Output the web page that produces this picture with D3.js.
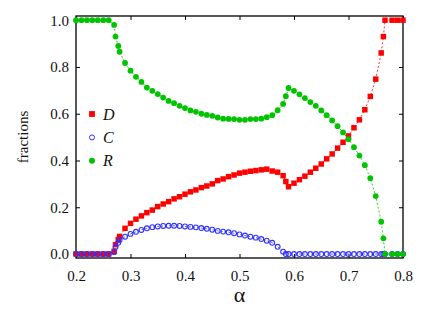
<!DOCTYPE html>
<html>
<head>
<meta charset="utf-8">
<script src="https://cdn.jsdelivr.net/npm/d3@7"></script>
<style>
body { margin: 0; background: #fff; }
</style>
</head>
<body>
<svg id="chart" width="436" height="309"></svg>
<script>
const width = 436;
const height = 309;
const serif = "'Liberation Serif', 'Times New Roman', 'DejaVu Serif', serif";

// values
const alpha = [0.20, 0.21, 0.22, 0.23, 0.24, 0.25, 0.26, 0.27, 0.2725, 0.2775, 0.28, 0.29,
  0.30, 0.31, 0.32, 0.33, 0.34, 0.35, 0.36, 0.37, 0.38, 0.39,
  0.40, 0.41, 0.42, 0.43, 0.44, 0.45, 0.46, 0.47, 0.48, 0.49,
  0.50, 0.51, 0.52, 0.53, 0.54, 0.55, 0.56, 0.57, 0.58, 0.585, 0.59,
  0.60, 0.61, 0.62, 0.63, 0.64, 0.65, 0.66, 0.67, 0.68, 0.69,
  0.70, 0.71, 0.72, 0.73, 0.74, 0.75, 0.76, 0.764, 0.767, 0.78, 0.79, 0.80];

const fracD = [0, 0, 0, 0, 0, 0, 0, 0.012, 0.04, 0.062, 0.075, 0.11,
  0.131, 0.149, 0.163, 0.177, 0.188, 0.203, 0.214, 0.224, 0.236, 0.245,
  0.256, 0.266, 0.274, 0.284, 0.291, 0.30, 0.314, 0.321, 0.331, 0.338,
  0.346, 0.35, 0.354, 0.357, 0.36, 0.363, 0.355, 0.35, 0.335, 0.31, 0.288,
  0.303, 0.318, 0.333, 0.35, 0.367, 0.385, 0.407, 0.428, 0.453, 0.478,
  0.505, 0.54, 0.574, 0.617, 0.674, 0.748, 0.86, 0.93, 1, 1, 1, 1];

const fracC = [0, 0, 0, 0, 0, 0, 0, 0.008, 0.03, 0.048, 0.06, 0.074,
  0.086, 0.095, 0.103, 0.11, 0.115, 0.118, 0.12, 0.121, 0.121, 0.12,
  0.118, 0.116, 0.114, 0.111, 0.108, 0.104, 0.099, 0.096, 0.093, 0.089,
  0.084, 0.079, 0.074, 0.07, 0.064, 0.057, 0.048, 0.031, 0.01, 0, 0,
  0, 0, 0, 0, 0, 0, 0, 0, 0, 0,
  0, 0, 0, 0, 0, 0, 0, 0, 0, 0, 0, 0];

const fracR = [1, 1, 1, 1, 1, 1, 1, 0.98, 0.93, 0.89, 0.865, 0.817,
  0.784, 0.758, 0.736, 0.712, 0.698, 0.684, 0.669, 0.655, 0.645, 0.634,
  0.624, 0.614, 0.608, 0.60, 0.595, 0.591, 0.584, 0.579, 0.578, 0.577,
  0.574, 0.574, 0.577, 0.577, 0.579, 0.585, 0.594, 0.615, 0.642, 0.675, 0.71,
  0.698, 0.683, 0.667, 0.65, 0.634, 0.614, 0.594, 0.571, 0.547, 0.52,
  0.491, 0.457, 0.421, 0.38, 0.324, 0.248, 0.138, 0.067, 0, 0, 0, 0];

const xTicks = [0.2, 0.3, 0.4, 0.5, 0.6, 0.7, 0.8];
const yTicks = [0.0, 0.2, 0.4, 0.6, 0.8, 1.0];
const seriesNames = ["D", "C", "R"];

const margin = {top: 16, right: 33, bottom: 51, left: 76};
const red = "#ff0000", blue = "#3030ff", green = "#00c400";

let svg = d3.select("#chart");
svg.append("rect").attr("width", width).attr("height", height).attr("fill", "#fff");

let x = d3.scaleLinear()
  .domain([0.2, 0.8])
  .range([margin.left, width - margin.right]);
let y = d3.scaleLinear()
  .domain([-0.017, 1.018])
  .range([height - margin.bottom, margin.top]);

function draw_axes() {
  let fmt = d3.format(".1f");
  let bottom = svg.append("g")
    .attr("transform", `translate(0, ${height - margin.bottom})`)
    .call(d3.axisBottom(x).tickValues(xTicks).tickFormat(fmt)
      .tickSizeInner(-4).tickSizeOuter(0).tickPadding(12));
  let left = svg.append("g")
    .attr("transform", `translate(${margin.left}, 0)`)
    .call(d3.axisLeft(y).tickValues(yTicks).tickFormat(fmt)
      .tickSizeInner(-4).tickSizeOuter(0).tickPadding(7));
  let top = svg.append("g")
    .attr("transform", `translate(0, ${margin.top})`)
    .call(d3.axisTop(x).tickValues(xTicks).tickFormat("")
      .tickSizeInner(-4).tickSizeOuter(0));
  let right = svg.append("g")
    .attr("transform", `translate(${width - margin.right}, 0)`)
    .call(d3.axisRight(y).tickValues(yTicks).tickFormat("")
      .tickSizeInner(-4).tickSizeOuter(0));

  [bottom, left, top, right].forEach(g => {
    g.select(".domain").remove();
    g.selectAll(".tick line").attr("stroke", "#000").attr("stroke-width", 1);
    g.selectAll("text")
      .style("font-family", serif)
      .style("font-size", "15px")
      .attr("fill", "#111");
  });

  svg.append("rect")
    .attr("x", margin.left)
    .attr("y", margin.top)
    .attr("width", width - margin.left - margin.right)
    .attr("height", height - margin.top - margin.bottom)
    .attr("fill", "none")
    .attr("stroke", "#000")
    .attr("stroke-width", 1.3);

  svg.append("text")
    .attr("transform", `translate(28, ${(margin.top + height - margin.bottom) / 2}) rotate(-90)`)
    .attr("text-anchor", "middle")
    .style("font-family", serif)
    .style("font-size", "15px")
    .attr("fill", "#111")
    .text("fractions");

  svg.append("text")
    .attr("x", (margin.left + width - margin.right) / 2)
    .attr("y", 302)
    .attr("text-anchor", "middle")
    .style("font-family", serif)
    .style("font-size", "22px")
    .attr("fill", "#111")
    .text("α");
}

function draw_series(values, color, shape) {
  let pts = alpha.map((a, i) => ({a: a, v: values[i]}));
  let line = d3.line().x(d => x(d.a)).y(d => y(d.v));
  let g = svg.append("g");
  g.append("path")
    .attr("d", line(pts))
    .attr("fill", "none")
    .attr("stroke", color)
    .attr("stroke-width", 0.8)
    .attr("stroke-dasharray", "2,2");

  if (shape == "square") {
    g.selectAll("path.pt").data(pts).enter()
      .append("path")
      .attr("class", "pt")
      .attr("d", d3.symbol(d3.symbolSquare, 30))
      .attr("transform", d => `translate(${x(d.a)}, ${y(d.v)})`)
      .attr("fill", color);
  } else if (shape == "open") {
    g.selectAll("circle").data(pts).enter()
      .append("circle")
      .attr("cx", d => x(d.a))
      .attr("cy", d => y(d.v))
      .attr("r", 2.4)
      .attr("fill", "none")
      .attr("stroke", color)
      .attr("stroke-width", 1.1);
  } else {
    g.selectAll("circle").data(pts).enter()
      .append("circle")
      .attr("cx", d => x(d.a))
      .attr("cy", d => y(d.v))
      .attr("r", 2.9)
      .attr("fill", color);
  }
}

function draw_legend() {
  let colors = [red, blue, green];
  let shapes = ["square", "open", "filled"];
  let g = svg.append("g");
  seriesNames.forEach((name, i) => {
    let cy = 114 + i * 23.4;
    if (shapes[i] == "square") {
      g.append("path")
        .attr("d", d3.symbol(d3.symbolSquare, 34))
        .attr("transform", `translate(92, ${cy})`)
        .attr("fill", colors[i]);
    } else if (shapes[i] == "open") {
      g.append("circle").attr("cx", 92).attr("cy", cy).attr("r", 2.5)
        .attr("fill", "none").attr("stroke", colors[i]).attr("stroke-width", 1);
    } else {
      g.append("circle").attr("cx", 92).attr("cy", cy).attr("r", 3)
        .attr("fill", colors[i]);
    }
    g.append("text")
      .attr("x", 103)
      .attr("y", cy)
      .attr("dy", "0.35em")
      .style("font-family", serif)
      .style("font-size", "16px")
      .style("font-style", "italic")
      .attr("fill", "#111")
      .text(name);
  });
}

draw_axes();
draw_series(fracD, red, "square");
draw_series(fracC, blue, "open");
draw_series(fracR, green, "filled");
draw_legend();
</script>
</body>
</html>
